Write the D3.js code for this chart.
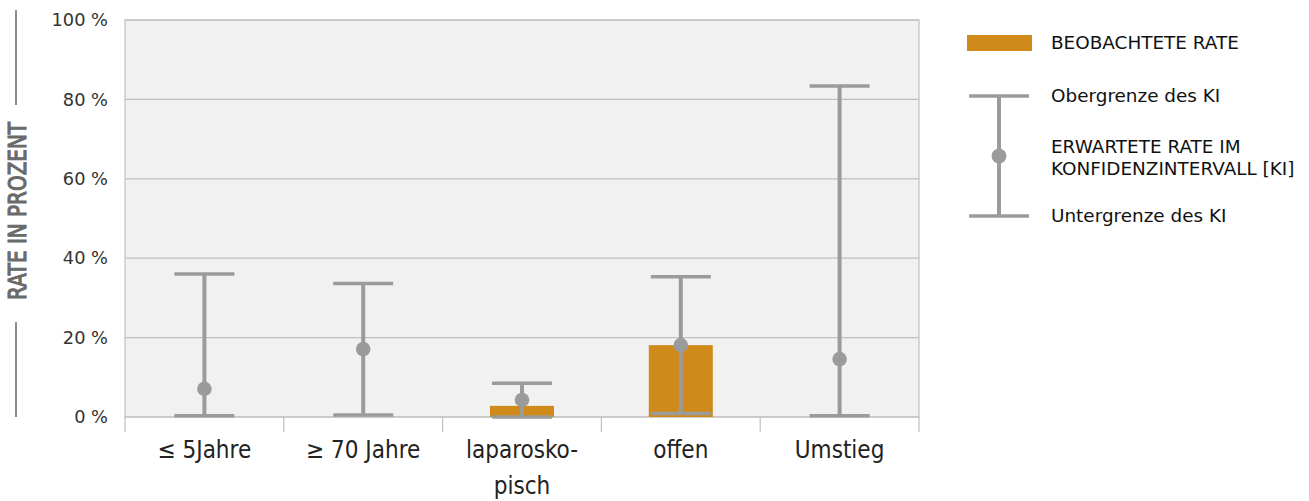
<!DOCTYPE html>
<html>
<head>
<meta charset="utf-8">
<script src="https://cdn.jsdelivr.net/npm/d3@7/dist/d3.min.js"></script>
<style>
  html, body { margin: 0; padding: 0; background: #fff; }
  svg { display: block; }
</style>
</head>
<body>
<svg id="chart" width="1309" height="501"></svg>
<script>
// ---- data ----
const categories = ["≤ 5Jahre", "≥ 70 Jahre", "laparosko-|pisch", "offen", "Umstieg"];
const observed   = [0, 0, 2.8, 18.1, 0];
const expected   = [7.1, 17.1, 4.3, 18.1, 14.6];
const ciLower    = [0.3, 0.5, 0.0, 0.9, 0.3];
const ciUpper    = [36.0, 33.6, 8.5, 35.3, 83.4];
const yTicks     = [0, 20, 40, 60, 80, 100];
const legendLabels = ["BEOBACHTETE RATE", "Obergrenze des KI", "ERWARTETE RATE IM|KONFIDENZINTERVALL [KI]", "Untergrenze des KI"];
const yAxisTitle = "RATE IN PROZENT";

// ---- layout ----
const svg = d3.select("#chart");
const pLeft = 125, pRight = 919, pTop = 20, pBottom = 417;
const condensed = "'DejaVu Sans Condensed', 'Liberation Sans Narrow', sans-serif";
const barColor = "#D08A1A", whiskerColor = "#9B9B9B", gridColor = "#C0C0C0";

const x = d3.scaleBand().domain(categories).range([pLeft, pRight]).paddingInner(0).paddingOuter(0);
const y = d3.scaleLinear().domain([0, 100]).range([pBottom, pTop]);

// plot background
svg.append("rect").attr("x", pLeft).attr("y", pTop).attr("width", pRight - pLeft).attr("height", pBottom - pTop)
  .attr("fill", "#F1F1F1").attr("stroke", gridColor).attr("stroke-width", 1.2);

// gridlines
svg.append("g").selectAll("line").data(yTicks).join("line")
  .attr("x1", pLeft).attr("x2", pRight)
  .attr("y1", d => y(d)).attr("y2", d => y(d))
  .attr("stroke", gridColor).attr("stroke-width", 1.2);

// y axis labels
const yAxis = d3.axisLeft(y).tickValues(yTicks).tickSize(0).tickPadding(17).tickFormat(d => d + " %");
const yg = svg.append("g").attr("transform", `translate(${pLeft},0)`).call(yAxis);
yg.select(".domain").remove();
yg.selectAll("text").attr("font-family", "'DejaVu Sans', sans-serif").attr("font-size", 17.8).attr("fill", "#333");

// x axis ticks
const xBoundaries = categories.map(c => x(c)).concat([pRight]);
svg.append("g").selectAll("line").data(xBoundaries).join("line")
  .attr("x1", d => d).attr("x2", d => d).attr("y1", pBottom).attr("y2", pBottom + 15)
  .attr("stroke", gridColor).attr("stroke-width", 1.2);

// x labels
const xl = svg.append("g").selectAll("text").data(categories).join("text")
  .attr("x", d => x(d) + x.bandwidth() / 2)
  .attr("y", 458)
  .attr("text-anchor", "middle")
  .attr("font-family", condensed)
  .attr("font-size", 24)
  .attr("fill", "#222");
xl.each(function(d) {
  const parts = d.split("|");
  d3.select(this).selectAll("tspan").data(parts).join("tspan")
    .attr("x", x(d) + x.bandwidth() / 2)
    .attr("dy", (p, i) => i === 0 ? 0 : 36)
    .text(p => p);
});

// bars
const barW = 64;
svg.append("g").selectAll("rect").data(categories).join("rect")
  .attr("x", d => x(d) + x.bandwidth() / 2 - barW / 2)
  .attr("width", barW)
  .attr("y", (d, i) => y(observed[i]))
  .attr("height", (d, i) => y(0) - y(observed[i]))
  .attr("fill", barColor);

// whiskers
const capW = 60;
const wg = svg.append("g").selectAll("g").data(categories).join("g");
wg.append("line")
  .attr("x1", d => x(d) + x.bandwidth() / 2).attr("x2", d => x(d) + x.bandwidth() / 2)
  .attr("y1", (d, i) => y(ciLower[i])).attr("y2", (d, i) => y(ciUpper[i]))
  .attr("stroke", whiskerColor).attr("stroke-width", 4);
wg.append("line")
  .attr("x1", d => x(d) + x.bandwidth() / 2 - capW / 2).attr("x2", d => x(d) + x.bandwidth() / 2 + capW / 2)
  .attr("y1", (d, i) => y(ciUpper[i])).attr("y2", (d, i) => y(ciUpper[i]))
  .attr("stroke", whiskerColor).attr("stroke-width", 3.5);
wg.append("line")
  .attr("x1", d => x(d) + x.bandwidth() / 2 - capW / 2).attr("x2", d => x(d) + x.bandwidth() / 2 + capW / 2)
  .attr("y1", (d, i) => y(ciLower[i])).attr("y2", (d, i) => y(ciLower[i]))
  .attr("stroke", whiskerColor).attr("stroke-width", 3.5);
wg.append("circle")
  .attr("cx", d => x(d) + x.bandwidth() / 2)
  .attr("cy", (d, i) => y(expected[i]))
  .attr("r", 7.3)
  .attr("fill", whiskerColor);

// y axis title with side lines
const titleX = 16, titleCY = 211;
svg.append("text")
  .attr("transform", `translate(${titleX + 9.5},${titleCY}) rotate(-90)`)
  .attr("text-anchor", "middle")
  .attr("font-family", condensed)
  .attr("font-size", 24.5)
  .attr("stroke", "#6a6a6a")
  .attr("stroke-width", 1.1)
  .attr("textLength", 178)
  .attr("lengthAdjust", "spacingAndGlyphs")
  .attr("fill", "#6a6a6a")
  .text(yAxisTitle);
svg.append("line").attr("x1", titleX).attr("x2", titleX).attr("y1", 10).attr("y2", 105)
  .attr("stroke", "#666").attr("stroke-width", 1.5);
svg.append("line").attr("x1", titleX).attr("x2", titleX).attr("y1", 322).attr("y2", 417)
  .attr("stroke", "#666").attr("stroke-width", 1.5);

// legend
const lg = svg.append("g").attr("font-family", "'DejaVu Sans', sans-serif").attr("font-size", 18.4).attr("fill", "#111");
lg.append("rect").attr("x", 967).attr("y", 35).attr("width", 65).attr("height", 16).attr("fill", barColor);
const lx = 999;
lg.append("line").attr("x1", lx).attr("x2", lx).attr("y1", 96).attr("y2", 216).attr("stroke", whiskerColor).attr("stroke-width", 4);
lg.append("line").attr("x1", lx - 30).attr("x2", lx + 30).attr("y1", 96).attr("y2", 96).attr("stroke", whiskerColor).attr("stroke-width", 3.5);
lg.append("line").attr("x1", lx - 30).attr("x2", lx + 30).attr("y1", 216).attr("y2", 216).attr("stroke", whiskerColor).attr("stroke-width", 3.5);
lg.append("circle").attr("cx", lx).attr("cy", 156).attr("r", 7.5).attr("fill", whiskerColor);
const legendY = [49, 102, 153, 222];
legendLabels.forEach((t, i) => {
  const txt = lg.append("text").attr("x", 1051).attr("y", legendY[i]);
  t.split("|").forEach((p, j) => {
    txt.append("tspan").attr("x", 1051).attr("dy", j === 0 ? 0 : 22).text(p);
  });
});
</script>
</body>
</html>
